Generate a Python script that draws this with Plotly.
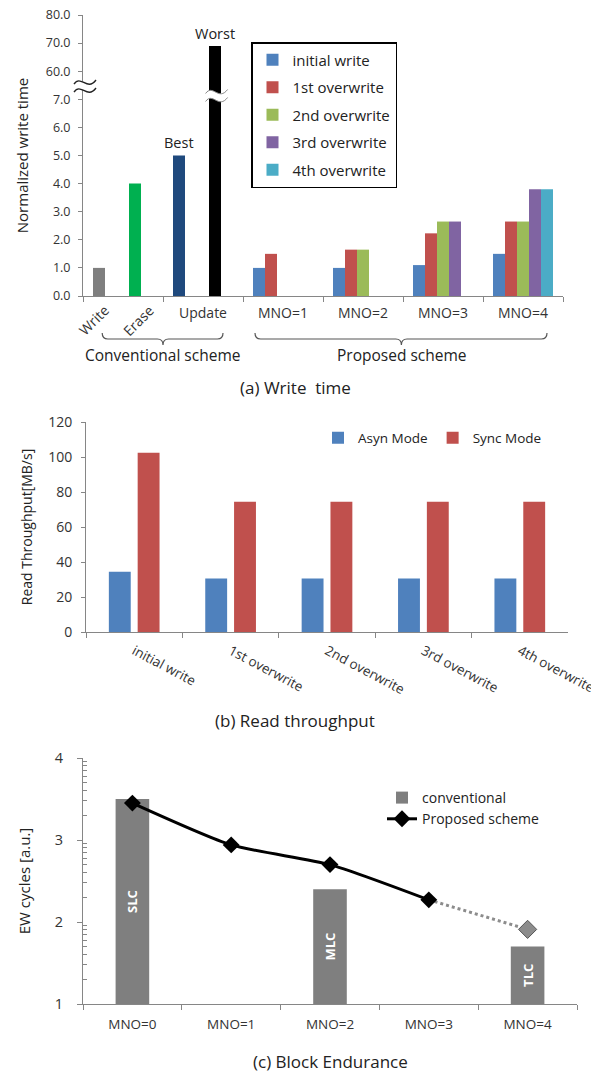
import math
import plotly.graph_objects as go

W, H = 591, 1073
def X(px): return px / W
def Y(py): return 1 - py / H

FONT = "Open Sans, Noto Sans, DejaVu Sans, sans-serif"
AX = "#868686"
TXT = "#333333"

# ---------------- (a) Write time ----------------
a_series = ["initial write", "1st overwrite", "2nd overwrite", "3rd overwrite", "4th overwrite"]
a_colors = ["#4F81BD", "#C0504D", "#9BBB59", "#8064A2", "#4BACC6"]
a_groups = ["MNO=1", "MNO=2", "MNO=3", "MNO=4"]
a_initial = [1.0, 1.0, 1.1, 1.5]
a_first = [1.5, 1.65, 2.23, 2.65]
a_second = [None, 1.65, 2.65, 2.65]
a_third = [None, None, 2.65, 3.8]
a_fourth = [None, None, None, 3.8]

conv_labels = ["Write", "Erase", "Best", "Worst"]
conv_values = [1.0, 4.0, 5.0, 69.0]
conv_colors = ["#7F7F7F", "#00B050", "#1F497D", "#000000"]
conv_category = [0, 0, 1, 1]
conv_slot = [0, 3, 0, 3]

a_tick_values = [0, 1, 2, 3, 4, 5, 6, 7, 60, 70, 80]
a_tick_labels = ["0.0", "1.0", "2.0", "3.0", "4.0", "5.0", "6.0", "7.0", "60.0", "70.0", "80.0"]

# ---------------- (b) Read throughput ----------------
b_categories = ["initial write", "1st overwrite", "2nd overwrite", "3rd overwrite", "4th overwrite"]
b_asyn = [34.4, 30.6, 30.6, 30.6, 30.6]
b_sync = [102.5, 74.5, 74.5, 74.5, 74.5]

# ---------------- (c) Block endurance ----------------
c_categories = ["MNO=0", "MNO=1", "MNO=2", "MNO=3", "MNO=4"]
c_conv_x = ["MNO=0", "MNO=2", "MNO=4"]
c_conv = [3.5, 2.4, 1.7]
c_conv_labels = ["SLC", "MLC", "TLC"]
c_proposed_x = ["MNO=0", "MNO=1", "MNO=2", "MNO=3"]
c_proposed = [3.45, 2.94, 2.70, 2.27]
c_projected_x = ["MNO=3", "MNO=4"]
c_projected = [2.27, 1.91]


def brk(v):
    """broken y-axis: 0..7 linear, then 60/70/80 one unit each"""
    if v is None:
        return None
    return v if v <= 7 else 8 + (v - 60) / 10.0


SLOT = 0.15
def slot_offset(k):
    return -0.375 + SLOT * k

fig = go.Figure()

a_vals = [a_initial, a_first, a_second, a_third, a_fourth]
for k, (name, vals, col) in enumerate(zip(a_series, a_vals, a_colors)):
    fig.add_trace(go.Bar(
        name=name, x=[i + 2.5 for i in range(len(a_groups))], y=[brk(v) for v in vals],
        customdata=vals, hovertemplate="%{customdata}<extra>" + name + "</extra>",
        width=SLOT, offset=slot_offset(k), marker=dict(color=col, line=dict(width=0)),
        xaxis="x", yaxis="y", legend="legend", legendgroup=name))

fig.add_trace(go.Bar(
    name="conventional scheme", x=[c + 0.5 for c in conv_category], y=[brk(v) for v in conv_values],
    customdata=conv_values, hovertemplate="%{customdata}<extra></extra>",
    width=SLOT, offset=[slot_offset(s) for s in conv_slot],
    marker=dict(color=conv_colors, line=dict(width=0)), showlegend=False,
    xaxis="x", yaxis="y"))

# ---------------- (b) traces
fig.add_trace(go.Bar(name="Asyn Mode", x=b_categories, y=b_asyn, width=0.227, offset=-0.263,
                     marker=dict(color="#4F81BD", line=dict(width=0)), xaxis="x2", yaxis="y2", legend="legend2"))
fig.add_trace(go.Bar(name="Sync Mode", x=b_categories, y=b_sync, width=0.227, offset=0.036,
                     marker=dict(color="#C0504D", line=dict(width=0)), xaxis="x2", yaxis="y2", legend="legend2"))

# ---------------- (c) traces
fig.add_trace(go.Bar(name="conventional", x=c_conv_x, y=[v - 1 for v in c_conv], base=1,
                     customdata=c_conv, hovertemplate="%{customdata}<extra></extra>",
                     width=0.34, offset=-0.17, text=c_conv_labels, textposition="inside",
                     insidetextanchor="middle", textangle=-90,
                     textfont=dict(color="white", size=13, family=FONT, weight="bold"),
                     marker=dict(color="#7F7F7F", line=dict(width=0)),
                     xaxis="x3", yaxis="y3", legend="legend3"))
fig.add_trace(go.Scatter(x=c_projected_x, y=c_projected, mode="lines",
                         line=dict(color="#8C8C8C", width=3, dash="dot"), showlegend=False,
                         xaxis="x3", yaxis="y3"))
fig.add_trace(go.Scatter(x=c_projected_x[1:], y=c_projected[1:], mode="markers",
                         marker=dict(symbol="diamond", size=14, color="#8C8C8C", line=dict(color="#555555", width=1)),
                         showlegend=False, xaxis="x3", yaxis="y3"))
fig.add_trace(go.Scatter(name="Proposed scheme", x=c_proposed_x, y=c_proposed, mode="lines+markers",
                         line=dict(color="black", width=3, shape="spline", smoothing=0.6),
                         marker=dict(symbol="diamond", size=13, color="black"),
                         xaxis="x3", yaxis="y3", legend="legend3"))

axis_common = dict(showline=True, linecolor=AX, linewidth=1, showgrid=False, zeroline=False,
                   ticks="outside", tickcolor=AX, ticklen=4, tickwidth=1, automargin=False)

fig.update_layout(
    width=W, height=H, margin=dict(l=0, r=0, t=0, b=0, autoexpand=False), autosize=False,
    paper_bgcolor="white", plot_bgcolor="white", barmode="overlay",
    font=dict(family=FONT, color=TXT, size=13),
    xaxis=dict(axis_common, domain=[X(83), X(563)], range=[0, 6], anchor="y",
               tickvals=[1.5, 2.5, 3.5, 4.5, 5.5], ticktext=["Update"] + a_groups, ticks="",
               ticklabelstandoff=4, tickfont=dict(size=14, color=TXT),
               minor=dict(tickvals=[0, 1, 2, 3, 4, 5, 6], ticks="outside", ticklen=5, tickcolor=AX)),
    yaxis=dict(axis_common, domain=[Y(296), Y(15)], range=[0, 10], anchor="x",
               tickvals=[brk(v) for v in a_tick_values], ticktext=a_tick_labels,
               ticklabelstandoff=5, tickfont=dict(size=12.5, color=TXT),
               title=dict(text="Normalized write time", font=dict(size=15, color="#222"), standoff=13)),
    xaxis2=dict(axis_common, domain=[X(86), X(568)], type="category", range=[-0.5, 4.5], anchor="y2",
                categoryorder="array", categoryarray=b_categories, ticklabelstandoff=5,
                tickson="boundaries", tickangle=28, ticklen=5, tickfont=dict(size=13.5, color=TXT)),
    yaxis2=dict(axis_common, domain=[Y(632), Y(422)], range=[0, 120], dtick=20, anchor="x2",
                ticklabelstandoff=6, tickfont=dict(size=14, color=TXT),
                title=dict(text="Read Throughput[MB/s]", font=dict(size=14, color="#222"), standoff=12)),
    xaxis3=dict(axis_common, domain=[X(83), X(577)], type="category", range=[-0.5, 4.5], anchor="y3",
                categoryorder="array", categoryarray=c_categories, ticklabelstandoff=8,
                tickson="boundaries", ticklen=5, tickfont=dict(size=13.5, color=TXT)),
    yaxis3=dict(axis_common, domain=[Y(1004), Y(758)], range=[1, 4], tickvals=[1, 2, 3, 4], anchor="x3",
                ticklen=5, ticklabelstandoff=11, tickfont=dict(size=14.5, color=TXT),
                minor=dict(tickvals=[n + math.log10(k) for n in (1, 2, 3) for k in range(2, 10)],
                           ticks="inside", ticklen=4, tickcolor=AX),
                title=dict(text="EW cycles [a.u.]", font=dict(size=15, color="#222"), standoff=20)),
    legend=dict(x=X(251), y=Y(42), xanchor="left", yanchor="top", bordercolor="black", borderwidth=1.5,
                bgcolor="white", font=dict(size=15, color="#222"), tracegroupgap=5, traceorder="grouped"),
    legend2=dict(x=X(318), y=Y(438), xanchor="left", yanchor="middle", orientation="h",
                 bgcolor="rgba(0,0,0,0)", font=dict(size=13.5, color="#222")),
    legend3=dict(x=X(382), y=Y(782), xanchor="left", yanchor="top",
                 bgcolor="rgba(0,0,0,0)", font=dict(size=14, color="#222"), tracegroupgap=8),
)

# ---- annotations
def note(px, py, text, size=15.5, angle=0, color="#222"):
    return dict(x=X(px), y=Y(py), xref="paper", yref="paper", text=text, textangle=angle,
                xanchor="center", yanchor="middle", showarrow=False, font=dict(size=size, color=color))

ann = []
for i in (2, 3):
    cx = conv_category[i] + 0.5 + slot_offset(conv_slot[i]) + SLOT / 2
    ann.append(dict(x=cx, y=brk(conv_values[i]), xref="x", yref="y", text=conv_labels[i],
                    showarrow=False, xanchor="center", yanchor="bottom", yshift=1,
                    font=dict(size=14.5, color="#222")))
ann.append(note(93, 320, "Write", 14, -45, TXT))
ann.append(note(138, 320, "Erase", 14, -45, TXT))
ann.append(note(162, 355, "Conventional scheme"))
ann.append(note(401, 355, "Proposed scheme"))
ann.append(note(295, 388, "(a) Write  time", 17))
ann.append(note(295, 720, "(b) Read throughput", 17))
ann.append(note(330, 1061, "(c) Block Endurance", 17))
fig.update_layout(annotations=ann)

# ---- braces and axis-break marks
def brace(x0, x1, xm, ytop, ymid, ytip):
    d = 0.07
    a, b, c = Y(ytop), Y(ymid), Y(ytip)
    return (f"M{x0},{a} Q{x0},{b} {x0+d},{b} L{xm-d},{b} Q{xm},{b} {xm},{c} "
            f"Q{xm},{b} {xm+d},{b} L{x1-d},{b} Q{x1},{b} {x1},{a}")

shapes = [
    dict(type="path", xref="x", yref="paper", path=brace(0.24, 1.75, 1.0, 333, 339, 345),
         line=dict(color="#555555", width=1.2)),
    dict(type="path", xref="x", yref="paper", path=brace(2.15, 5.8, 3.98, 333, 339, 345),
         line=dict(color="#555555", width=1.2)),
]

def squiggle(xref, yref, xa, ya, lw, col):
    band = "M-11,3 C-4,13 2,-5 11,7 L11,-1 C2,-13 -4,5 -11,-5 Z"
    up = "M-11,3 C-4,13 2,-5 11,7"
    lo = "M-11,-5 C-4,5 2,-13 11,-1"
    base = dict(type="path", xref=xref, yref=yref, xsizemode="pixel", ysizemode="pixel",
                xanchor=xa, yanchor=ya, layer="above")
    return [dict(base, path=band, fillcolor="white", line=dict(width=0)),
            dict(base, path=up, line=dict(color=col, width=lw)),
            dict(base, path=lo, line=dict(color=col, width=lw))]

shapes += squiggle("paper", "paper", X(85), Y(87), 1.4, "#222")
worst_cx = conv_category[3] + 0.5 + slot_offset(conv_slot[3]) + SLOT / 2
shapes += squiggle("x", "y", worst_cx + 0.02, 7.1, 1.0, "#888")
fig.update_layout(shapes=shapes)

fig.write_html("out.html", config={"displayModeBar": False},
               post_script="document.body.style.margin='0px';")
